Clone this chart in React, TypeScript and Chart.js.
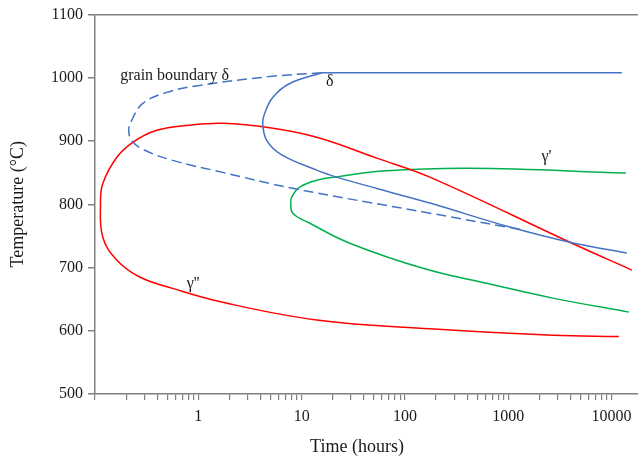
import { useEffect, useRef } from "react";
import { Chart, registerables } from "chart.js";

Chart.register(...registerables);

const FONT = "'Liberation Serif', 'Times New Roman', serif";
const TEXT_COLOR = "#1a1a1a";
const AXIS_COLOR = "#808080";

// Axis ticks and titles
const xMajorTicks = [1, 10, 100, 1000, 10000];
const xDecades = [0.1, 1, 10, 100, 1000];
const xMinorMultipliers = [2, 3, 4, 5, 6, 7, 8, 9];
const yTickStep = 100;
const xTitle = "Time (hours)";
const yTitle = "Temperature (°C)";

// Grain boundary delta (dashed blue C-curve)
const gbDeltaTime = [15.65, 4.91, 1.03, 0.494, 0.29, 0.227, 0.212, 0.227, 0.29, 0.565, 1.72, 8.2, 174, 1445];
const gbDeltaTemp = [1008, 1002, 988, 977, 959.5, 933, 917, 901, 887, 869.5, 850.5, 825.3, 786, 759];

// Delta (solid blue): plateau line + C-curve
const deltaPlateauTime = [15.65, 12560];
const deltaPlateauTemp = [1008, 1008];
const deltaTime = [15.65, 7.67, 5.25, 4.39, 4.2, 4.59, 6.3, 14.0, 21.9, 53.3, 174, 1035, 3940, 14030];
const deltaTemp = [1008, 991, 969, 944, 928, 901, 879, 854, 843, 825, 802, 764, 740, 723];

// Gamma double prime (red C-curve)
const gammaDPTime = [15700, 3940, 174, 53.3, 14.0, 4.91, 1.72, 0.826, 0.396, 0.232, 0.162, 0.119, 0.113, 0.119, 0.162, 0.271, 0.565, 1.72, 14.0, 174, 2700, 11750];
const gammaDPTemp = [696, 740, 843, 873, 906, 921, 928, 925, 917, 898, 874, 833, 802, 748, 712, 685, 667, 645, 617, 603, 593, 591];

// Gamma prime (green C-curve)
const gammaPTime = [13740, 424, 61, 23.4, 14.0, 9.58, 8.02, 7.85, 8.2, 12.0, 29.2, 155, 619, 2700, 14700];
const gammaPTemp = [849.5, 857, 852.6, 844, 838, 827, 811.6, 801, 786, 770, 738.5, 698, 675, 651.6, 629.5];

// In-plot labels
const labelText = ["grain boundary δ", "δ", "γ'", "γ''"];
const labelTime = [0.59, 18.7, 2343, 0.889];
const labelTemp = [1003.7, 993, 875, 675];

const pts = (ts: number[], Ts: number[]) => ts.map((t, i) => ({ x: t, y: Ts[i] }));

export default function App() {
  const ref = useRef<HTMLCanvasElement>(null);

  useEffect(() => {
    if (!ref.current) return;
    const xTickValues = [
      ...xDecades,
      ...xDecades.flatMap((d) => xMinorMultipliers.map((m) => m * d)),
      10000,
    ].sort((a, b) => a - b);

    const labelPlugin = {
      id: "curveLabels",
      afterDatasetsDraw(chart: any) {
        const { ctx, scales } = chart;
        ctx.save();
        ctx.font = `16px ${FONT}`;
        ctx.fillStyle = TEXT_COLOR;
        ctx.textAlign = "center";
        ctx.textBaseline = "middle";
        labelText.forEach((txt, i) => {
          ctx.fillText(txt, scales.x.getPixelForValue(labelTime[i]), scales.y.getPixelForValue(labelTemp[i]));
        });
        // x-axis title (sits slightly left of the plot centre in the original)
        ctx.font = `18px ${FONT}`;
        ctx.fillText(xTitle, chart.chartArea.left + (chart.chartArea.right - chart.chartArea.left) * 0.4825, 447);
        ctx.restore();
      },
    };

    const base = { showLine: true, pointRadius: 0, borderWidth: 1.5, tension: 0.4, fill: false };
    const blue = "#4472C4";

    const chart = new Chart(ref.current, {
      type: "scatter",
      data: {
        datasets: [
          { ...base, label: "grain boundary δ", data: pts(gbDeltaTime, gbDeltaTemp), borderColor: blue, borderDash: [10, 5] },
          { ...base, label: "δ plateau", data: pts(deltaPlateauTime, deltaPlateauTemp), borderColor: blue, tension: 0 },
          { ...base, label: "δ", data: pts(deltaTime, deltaTemp), borderColor: blue },
          { ...base, label: "γ''", data: pts(gammaDPTime, gammaDPTemp), borderColor: "#FF0000" },
          { ...base, label: "γ'", data: pts(gammaPTime, gammaPTemp), borderColor: "#00B050" },
        ] as any,
      },
      options: {
        responsive: false,
        animation: false,
        devicePixelRatio: 1,
        layout: { padding: { top: 14, right: 1, left: 0, bottom: 0 } },
        plugins: { legend: { display: false }, tooltip: { enabled: false } },
        scales: {
          x: {
            type: "logarithmic",
            min: 0.1,
            max: 18000,
            afterFit: (s: any) => {
              s.height = 65;
            },
            afterBuildTicks: (s: any) => {
              s.ticks = xTickValues.map((v) => ({ value: v }));
            },
            ticks: {
              autoSkip: false,
              maxRotation: 0,
              minRotation: 0,
              padding: 7,
              color: TEXT_COLOR,
              font: { family: FONT, size: 16 },
              callback: (v: any) => (xMajorTicks.includes(Number(v)) ? String(v) : ""),
            },
            grid: { drawOnChartArea: false, drawTicks: true, tickLength: 6, color: AXIS_COLOR, lineWidth: 1.2 },
            border: { display: true, color: AXIS_COLOR, width: 1.5 },
            title: { display: false, text: xTitle },
          },
          y: {
            type: "linear",
            min: 500,
            max: 1100,
            afterFit: (s: any) => {
              s.width = 95;
            },
            ticks: {
              stepSize: yTickStep,
              padding: 5,
              color: TEXT_COLOR,
              font: { family: FONT, size: 16 },
              callback: (v: any) => String(v),
            },
            grid: {
              drawOnChartArea: true,
              drawTicks: true,
              tickLength: 7,
              lineWidth: 1.5,
              color: (ctx: any) => (ctx.tick && ctx.tick.value === 1100 ? AXIS_COLOR : "rgba(0,0,0,0)"),
              tickColor: AXIS_COLOR,
            },
            border: { display: true, color: AXIS_COLOR, width: 1.5 },
            title: {
              display: true,
              text: yTitle,
              color: TEXT_COLOR,
              font: { family: FONT, size: 18 },
              padding: { top: 7, bottom: 0 },
            },
          },
        },
      },
      plugins: [labelPlugin],
    });
    return () => chart.destroy();
  }, []);

  return (
    <div style={{ position: "fixed", left: 0, top: 0, width: 639, height: 459, background: "#fff" }}>
      <canvas ref={ref} width={639} height={459} style={{ display: "block", width: 639, height: 459 }} />
    </div>
  );
}
